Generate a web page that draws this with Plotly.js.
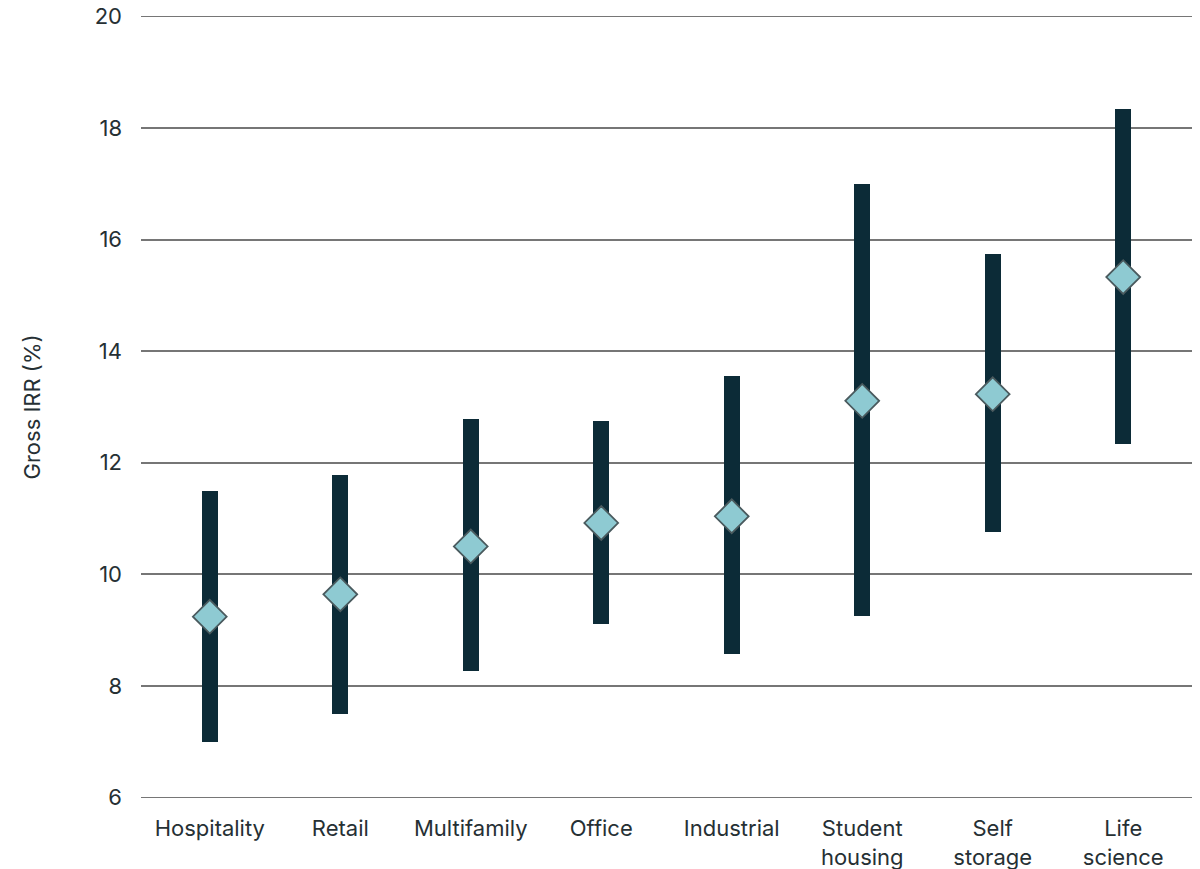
<!DOCTYPE html>
<html>
<head>
<meta charset="utf-8">
<script src="https://cdn.plot.ly/plotly-3.0.1.min.js"></script>
<style>
  html, body { margin: 0; padding: 0; background: #ffffff; }
  #chart { width: 1200px; height: 869px; }
</style>
</head>
<body>
<div id="chart"></div>
<script>
// Sector categories (tick labels, with line breaks for the two-word ones)
const sectors = ['Hospitality', 'Retail', 'Multifamily', 'Office', 'Industrial',
                 'Student<br>housing', 'Self<br>storage', 'Life<br>science'];

// Gross IRR range per sector (%)
const irrLow  = [7.0, 7.49, 8.26, 9.1, 8.57, 9.25, 10.76, 12.34];
const irrHigh = [11.5, 11.78, 12.79, 12.75, 13.56, 17.0, 15.75, 18.35];

// Central (midpoint) estimate per sector (%)
const irrMid  = [9.24, 9.64, 10.5, 10.92, 11.04, 13.11, 13.23, 15.33];

const yTicks = [6, 8, 10, 12, 14, 16, 18, 20];

const textColor = '#263034';
const fontFamily = 'Inter, "Noto Sans", "Liberation Sans", sans-serif';

// Range bars: each bar starts at the low value and spans up to the high value
const rangeBars = {
  type: 'bar',
  x: sectors,
  base: irrLow,
  y: irrHigh.map((h, i) => h - irrLow[i]),
  width: 0.12,
  marker: { color: '#0c2b37', line: { width: 0 } },
  hoverinfo: 'skip',
  showlegend: false
};

// Diamond markers for the central estimate
const midPoints = {
  type: 'scatter',
  mode: 'markers',
  x: sectors,
  y: irrMid,
  marker: {
    symbol: 'diamond',
    size: 26,
    color: '#8ecad2',
    line: { color: '#4a5a5e', width: 1.8 }
  },
  hoverinfo: 'skip',
  showlegend: false
};

const layout = {
  width: 1200,
  height: 869,
  margin: { l: 141, r: 8, t: 15, b: 70 },
  paper_bgcolor: '#ffffff',
  plot_bgcolor: '#ffffff',
  font: { family: fontFamily, size: 22, color: textColor },
  bargap: 0,
  xaxis: {
    type: 'category',
    showgrid: false,
    zeroline: false,
    showline: false,
    ticks: '',
    ticklabelstandoff: 14,
    tickfont: { family: fontFamily, size: 22, color: textColor },
    fixedrange: true
  },
  yaxis: {
    // padded past 6 and 20 so the gridlines at both ends are kept
    range: [5.97, 20.03],
    tickvals: yTicks,
    ticktext: yTicks.map(String),
    showgrid: true,
    gridcolor: '#767676',
    gridwidth: 1.6,
    zeroline: false,
    showline: false,
    ticks: '',
    ticklabelstandoff: 18,
    tickfont: { family: fontFamily, size: 22, color: textColor },
    title: {
      text: 'Gross IRR (%)',
      font: { family: fontFamily, size: 22, color: textColor },
      standoff: 48
    },
    fixedrange: true
  }
};

Plotly.newPlot('chart', [rangeBars, midPoints], layout, { staticPlot: true, displayModeBar: false });
</script>
</body>
</html>
